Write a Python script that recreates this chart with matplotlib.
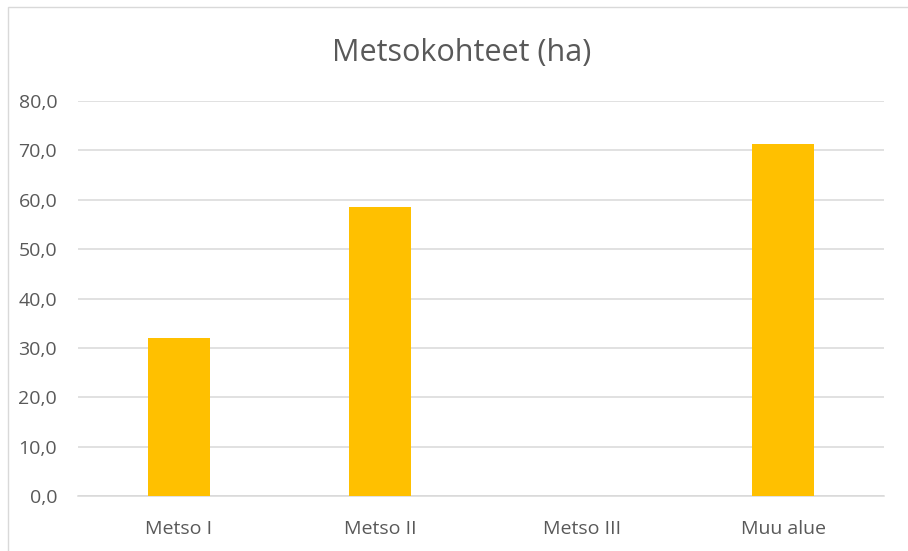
import matplotlib.pyplot as plt
import matplotlib.patches as mpatches
from matplotlib.ticker import FuncFormatter

categories = ['Metso I', 'Metso II', 'Metso III', 'Muu alue']
hectares = [32.0, 58.5, 0.0, 71.3]
y_ticks = [0, 10, 20, 30, 40, 50, 60, 70, 80]

plt.rcParams['font.family'] = ['Open Sans', 'DejaVu Sans']
text_col = '#595959'
grid_col = '#d9d9d9'

fig = plt.figure(figsize=(9.08, 5.51), dpi=100)
ax = fig.add_axes([78 / 908, 1 - 496 / 551, (884 - 78) / 908, (496 - 101) / 551])

ax.bar(range(len(categories)), hectares, width=0.31, color='#FFC000', zorder=3)

ax.set_xlim(-0.5, len(categories) - 0.5)
ax.set_ylim(0, 80)
ax.set_yticks(y_ticks)
ax.yaxis.set_major_formatter(FuncFormatter(lambda v, p: f'{v:.1f}'.replace('.', ',')))
ax.set_xticks(range(len(categories)))
ax.set_xticklabels(categories)
ax.grid(axis='y', color=grid_col, linewidth=1.1, zorder=0)
for s in ['top', 'right', 'left']:
    ax.spines[s].set_visible(False)
ax.spines['bottom'].set_color(grid_col)
ax.spines['bottom'].set_linewidth(1.1)
ax.tick_params(axis='both', length=0, labelsize=14, colors=text_col)
ax.tick_params(axis='y', pad=15)
ax.tick_params(axis='x', pad=17)

fig.text(0.508, 1 - 53 / 551, 'Metsokohteet (ha)', ha='center', va='center',
         fontsize=22, color=text_col)

# chart frame (right and bottom edges fall outside the image)
fig.patches.append(mpatches.Rectangle((8 / 908, -0.05), 1.0, 1 - 7 / 551 + 0.05,
                                      transform=fig.transFigure, fill=False,
                                      edgecolor='#d9d9d9', linewidth=1.0))

fig.savefig('out.png', dpi=100)
